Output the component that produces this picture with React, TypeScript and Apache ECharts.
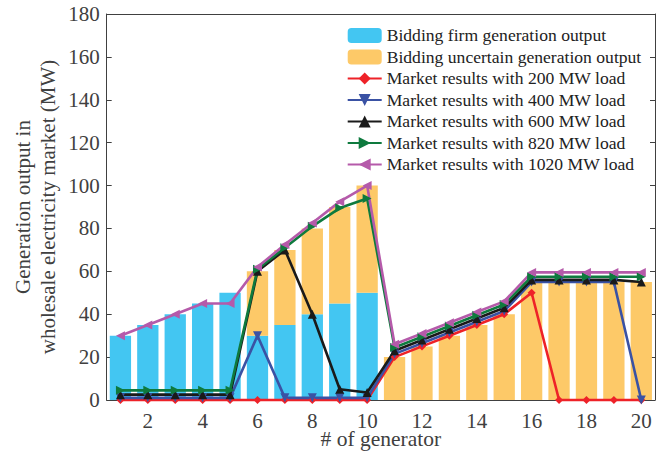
import { useEffect, useRef } from "react";
import * as echarts from "echarts";

// Generator indices 1..20
const generators = Array.from({ length: 20 }, (_, i) => String(i + 1));

// Bidding capacities (MW)
const firmOutput = [30, 35, 40, 45, 50, 30, 35, 40, 45, 50, 0, 0, 0, 0, 0, 0, 0, 0, 0, 0];
const uncertainOutput = [0, 0, 0, 0, 0, 30, 35, 40, 45, 50, 20, 25, 30, 35, 40, 55, 55, 55, 55, 55];

// Cleared outputs (MW) for each system load level
const load200 = [0, 0, 0, 0, 0, 0, 0, 0, 0, 0, 20, 25, 30, 35, 40, 50, 0, 0, 0, 0];
const load400 = [1, 1, 1, 1, 1, 30, 1, 1, 1, 1, 21.5, 26.5, 31.5, 36.5, 41.5, 55, 55, 55, 55, 0];
const load600 = [2.5, 2.5, 2.5, 2.5, 2.5, 60, 70, 40, 5, 3.5, 23, 28, 33, 38, 43, 56, 56, 56, 56, 55];
const load820 = [4.5, 4.5, 4.5, 4.5, 4.5, 61, 71, 81, 89.5, 94, 24.5, 29.5, 34.5, 39.5, 44.5, 57.5, 57.5, 57.5, 57.5, 57.5];
const load1020 = [30, 35, 40, 45, 45, 62, 72.5, 82.5, 92.5, 100, 26, 31, 36, 41, 46, 59.5, 59.5, 59.5, 59.5, 59.5];

const AXIS_COLOR = "#404040";
const FONT = "'Liberation Serif', 'Times New Roman', serif";

const everyOther = (index: number) => index % 2 === 1;

function lineSeries(name: string, data: number[], color: string, symbol: string, rotate: number, size: number) {
  return {
    name,
    type: "line",
    data,
    symbol,
    symbolSize: size,
    symbolRotate: rotate,
    clip: false,
    lineStyle: { color, width: 2.6 },
    itemStyle: { color, borderColor: color, borderWidth: 0 },
    emphasis: { disabled: true },
  };
}

export default function App() {
  const ref = useRef<HTMLDivElement>(null);

  useEffect(() => {
    if (!ref.current) return;
    const chart = echarts.init(ref.current, undefined, { renderer: "svg" });

    const tickStyle = { inside: true, length: 5, alignWithLabel: true, interval: everyOther, lineStyle: { color: AXIS_COLOR } };

    chart.setOption({
      animation: false,
      backgroundColor: "#ffffff",
      textStyle: { fontFamily: FONT },
      grid: { left: 106.7, right: 10, top: 14, bottom: 52, containLabel: false, outerBoundsMode: "none" },
      legend: {
        orient: "vertical",
        left: 346.7,
        top: 26.4,
        padding: 0,
        itemWidth: 34,
        itemHeight: 15,
        itemGap: 3.5,
        itemTextGap: 1,
        textStyle: { fontFamily: FONT, fontSize: 17.6, lineHeight: 18, color: "#222222" },
        data: [
          "Bidding firm generation output",
          "Bidding uncertain generation output",
          "Market results with 200 MW load",
          "Market results with 400 MW load",
          "Market results with 600 MW load",
          "Market results with 820 MW load",
          "Market results with 1020 MW load",
        ],
      },
      xAxis: [
        {
          type: "category",
          data: generators,
          position: "bottom",
          boundaryGap: true,
          axisLine: { show: true, onZero: false, lineStyle: { color: AXIS_COLOR, width: 1 } },
          axisTick: tickStyle,
          axisLabel: { interval: everyOther, fontSize: 21, lineHeight: 16, color: AXIS_COLOR, margin: 12.5, fontFamily: FONT },
          splitLine: { show: false },
          name: "# of generator",
          nameLocation: "middle",
          nameGap: 31,
          nameMoveOverlap: false,
          nameTextStyle: { fontSize: 21.5, lineHeight: 16, color: AXIS_COLOR, fontFamily: FONT },
        },
        {
          type: "category",
          data: generators,
          position: "top",
          boundaryGap: true,
          axisLine: { show: true, onZero: false, lineStyle: { color: AXIS_COLOR, width: 1 } },
          axisTick: tickStyle,
          axisLabel: { show: false, interval: everyOther },
          splitLine: { show: false },
        },
      ],
      yAxis: [
        {
          type: "value",
          min: 0,
          max: 180,
          interval: 20,
          position: "left",
          axisLine: { show: true, lineStyle: { color: AXIS_COLOR, width: 1 } },
          axisTick: { show: true, inside: true, length: 5, lineStyle: { color: AXIS_COLOR } },
          axisLabel: { fontSize: 21, color: AXIS_COLOR, margin: 7, fontFamily: FONT },
          splitLine: { show: false },
          name: "Generation output in\nwholesale electricity market (MW)",
          nameLocation: "middle",
          nameGap: 46,
          nameMoveOverlap: false,
          nameTextStyle: { fontSize: 21, lineHeight: 25, color: AXIS_COLOR, fontFamily: FONT },
        },
        {
          type: "value",
          min: 0,
          max: 180,
          interval: 20,
          position: "right",
          axisLine: { show: true, lineStyle: { color: AXIS_COLOR, width: 1 } },
          axisTick: { show: true, inside: true, length: 5, lineStyle: { color: AXIS_COLOR } },
          axisLabel: { show: false },
          splitLine: { show: false },
        },
      ],
      series: [
        {
          name: "Bidding firm generation output",
          type: "bar",
          stack: "bid",
          data: firmOutput,
          barWidth: 21.3,
          itemStyle: { color: "#43C6F2" },
          emphasis: { disabled: true },
        },
        {
          name: "Bidding uncertain generation output",
          type: "bar",
          stack: "bid",
          data: uncertainOutput,
          barWidth: 21.3,
          itemStyle: { color: "#FDC968" },
          emphasis: { disabled: true },
        },
        lineSeries("Market results with 200 MW load", load200, "#EE2228", "diamond", 0, 8),
        lineSeries("Market results with 400 MW load", load400, "#3A52A4", "triangle", 180, 9),
        lineSeries("Market results with 600 MW load", load600, "#1A1A1A", "triangle", 0, 9),
        lineSeries("Market results with 820 MW load", load820, "#0E7A3E", "triangle", -90, 9),
        lineSeries("Market results with 1020 MW load", load1020, "#B55AAA", "triangle", 90, 9),
      ],
    });

    return () => chart.dispose();
  }, []);

  return <div ref={ref} style={{ position: "fixed", left: 0, top: 0, width: 665, height: 452 }} />;
}
